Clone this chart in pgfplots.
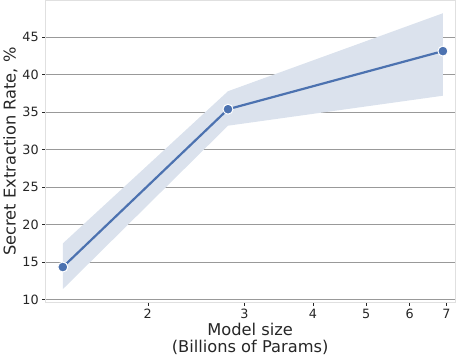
\documentclass[border=0pt]{standalone}
\usepackage{pgfplots}
\pgfplotsset{compat=1.18}
\usepgfplotslibrary{fillbetween}
\usepackage{fontspec}
\setmainfont{DejaVu Sans}
\definecolor{sblue}{HTML}{4C72B0}
\definecolor{band}{HTML}{DBE2ED}
\definecolor{txt}{HTML}{262626}
\begin{document}
\begin{tikzpicture}[x=1pt,y=1pt]
\begin{axis}[
  scale only axis,
  width=411pt, height=303pt,
  xmode=log,
  xmin=1.30, xmax=7.26,
  ymin=9.6, ymax=49.9,
  xtick={2,3,4,5,6,7},
  xticklabels={2,3,4,5,6,7},
  minor xtick={},
  ytick={10,15,20,25,30,35,40,45},
  ymajorgrids,
  grid style={draw=black!40, line width=0.9pt},
  axis line style={draw=black!12, line width=1pt},
  tick style={draw=txt, line width=0.6pt},
  tick align=outside,
  major tick length=3pt,
  xtick pos=bottom, ytick pos=left,
  ticklabel style={font=\fontsize{12.8}{14}\selectfont, text=txt},
  /pgf/number format/assume math mode=true,
  log ticks with fixed point,
  xlabel={Model size\\(Billions of Params)},
  xlabel style={font=\fontsize{16.3}{17.5}\selectfont, text=txt, align=center, yshift=3pt},
  ylabel={Secret Extraction Rate, \%},
  ylabel style={font=\fontsize{16.3}{18}\selectfont, text=txt, yshift=-2pt},
  clip=false,
]
\addplot[name path=up, draw=none, forget plot] coordinates {(1.4,17.5) (2.8,37.8) (6.9,48.2)};
\addplot[name path=lo, draw=none, forget plot] coordinates {(1.4,11.4) (2.8,33.2) (6.9,37.2)};
\addplot[band, forget plot] fill between[of=up and lo];
\addplot[color=sblue, line width=2.2pt, mark=*, mark size=5pt,
  mark options={fill=sblue, draw=white, line width=1pt}]
  coordinates {(1.4,14.35) (2.8,35.4) (6.9,43.15)};
\end{axis}
\path ([xshift=7pt]current axis.east) circle (0pt);
\end{tikzpicture}
\end{document}
